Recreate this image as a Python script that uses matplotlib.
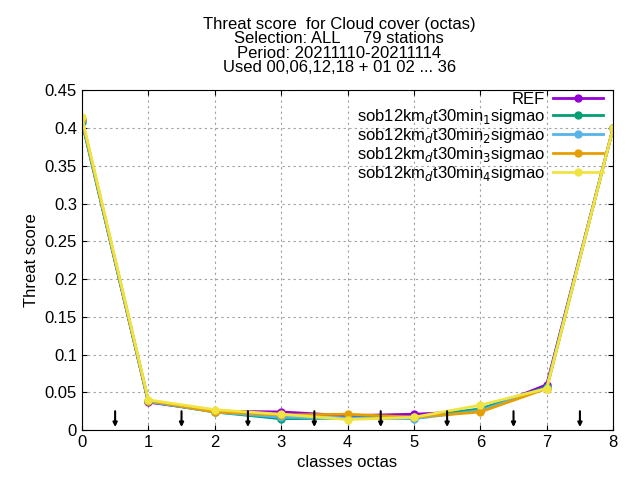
import matplotlib
matplotlib.use("Agg")
import matplotlib.pyplot as plt

x = [0, 1, 2, 3, 4, 5, 6, 7, 8]
names = ["REF", "sob12km$_{d}$t30min$_{1}$sigmao", "sob12km$_{d}$t30min$_{2}$sigmao",
         "sob12km$_{d}$t30min$_{3}$sigmao", "sob12km$_{d}$t30min$_{4}$sigmao"]
colors = ["#9400d3", "#009e73", "#56b4e9", "#e69f00", "#f0e442"]
series = [
    [0.410, 0.037, 0.025, 0.024, 0.019, 0.021, 0.025, 0.060, 0.400],
    [0.408, 0.038, 0.024, 0.015, 0.016, 0.017, 0.028, 0.057, 0.400],
    [0.410, 0.038, 0.024, 0.017, 0.016, 0.015, 0.026, 0.056, 0.400],
    [0.412, 0.039, 0.024, 0.020, 0.021, 0.017, 0.024, 0.055, 0.400],
    [0.414, 0.040, 0.027, 0.021, 0.014, 0.017, 0.033, 0.055, 0.400],
]
arrow_x = [0.5, 1.5, 2.5, 3.5, 4.5, 5.5, 6.5, 7.5]
arrow_top = 0.025
arrow_bot = 0.004

plt.rcParams['font.family'] = ['Liberation Sans', 'DejaVu Sans']
fig = plt.figure(figsize=(6.4, 4.8), dpi=100)
ax = fig.add_axes([0.128, 0.104, 0.83, 0.708])
for n, c, s in zip(names, colors, series):
    ax.plot(x, s, color=c, lw=2, marker='o', ms=5, label=n)
for ax_ in arrow_x:
    ax.annotate('', xy=(ax_, arrow_bot), xytext=(ax_, arrow_top),
                arrowprops=dict(arrowstyle='-|>', color='black', lw=1.5, mutation_scale=6,
                                shrinkA=0, shrinkB=0))
ax.set_xlim(0, 8)
ax.set_ylim(0, 0.45)
ax.set_xticks(range(9))
ax.set_yticks([0, 0.05, 0.1, 0.15, 0.2, 0.25, 0.3, 0.35, 0.4, 0.45])
ax.set_yticklabels(['0', '0.05', '0.1', '0.15', '0.2', '0.25', '0.3', '0.35', '0.4', '0.45'])
ax.grid(True, color='#a0a0a0', ls=(0, (2, 3)), lw=0.8)
ax.tick_params(direction='in', top=True, right=True, labelsize=12)
ax.set_xlabel('classes octas', fontsize=12)
ax.set_ylabel('Threat score', fontsize=12)
leg = ax.legend(loc='upper right', frameon=False, fontsize=12, markerfirst=False,
                handlelength=3, labelspacing=0.0, borderaxespad=0.0, borderpad=0.1,
                handletextpad=0.5, bbox_to_anchor=(0.985, 1.0))
for t in leg.get_texts():
    t.set_ha('right')
fig.text(0.53, 0.965, "Threat score  for Cloud cover (octas)\nSelection: ALL     79 stations\nPeriod: 20211110-20211114\nUsed 00,06,12,18 + 01 02 ... 36",
         ha='center', va='top', fontsize=12, linespacing=0.95)
fig.savefig('out.png')
